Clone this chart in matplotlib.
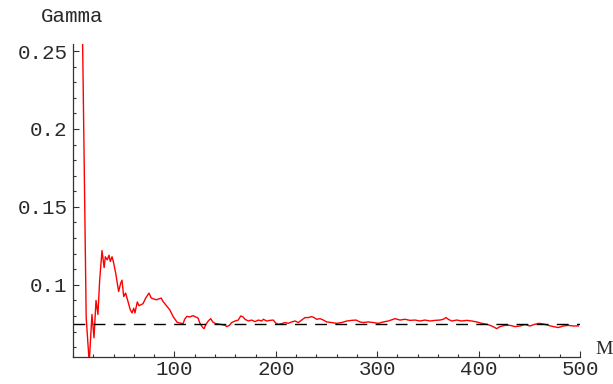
import matplotlib
matplotlib.use("Agg")
import matplotlib.pyplot as plt
from matplotlib.ticker import MultipleLocator

# Running estimate of Gamma against the number of samples M
m_values = [9, 13, 16, 18.7, 20.7, 22.7, 24.6, 26.3, 28.6, 30.7, 31.9, 33.8, 35.5,
            36.8, 38.5, 39.8, 42.1, 45, 47, 48.3, 50, 51.9, 54.2, 56.5, 58.2, 59.9,
            61.1, 63.4, 65.1, 66.8, 69, 71.7, 74.9, 77.2, 82.1, 87, 88.8, 95.4,
            98.6, 102.6, 108.5, 110.2, 112.4, 115.1, 118.3, 123.3, 125.2, 127.9,
            129.2, 131.2, 133.4, 135.8, 137.8, 140, 145, 150, 151.6, 154.2, 156.5,
            159.8, 163, 165.4, 167.4, 169.6, 172.9, 176.2, 179.5, 182.8, 186.1,
            187.7, 191, 194.3, 197.5, 200.2, 202.5, 205.8, 209.1, 212.3, 215.7,
            219, 222.2, 225.5, 228.8, 232, 235.4, 237.7, 240.3, 243.6, 246.9,
            250.2, 255.1, 260.1, 265, 270, 274.9, 279.1, 283, 286.3, 291.2, 296.2,
            301.1, 306.1, 311, 317.6, 322.5, 327.4, 332.3, 337.3, 342.2, 347.1,
            352.1, 357, 361.9, 365.2, 367.9, 370.1, 373.5, 378.4, 383.3, 388.3,
            393.2, 398.1, 403.1, 408, 412.9, 417.9, 421.1, 426, 431, 435.9, 440.8,
            445.8, 450.7, 455.6, 459.6, 463.8, 468.7, 473.7, 478.6, 483.5, 488.5,
            493.4, 498.3]
gamma_values = [0.280, 0.079, 0.050, 0.081, 0.066, 0.090, 0.081, 0.103, 0.122, 0.111,
                0.118, 0.116, 0.119, 0.115, 0.118, 0.115, 0.1075, 0.0957, 0.101,
                0.103, 0.0925, 0.0947, 0.0893, 0.084, 0.082, 0.085, 0.082, 0.089,
                0.0866, 0.0872, 0.0879, 0.0915, 0.0947, 0.0915, 0.0904, 0.0915,
                0.0893, 0.084, 0.0798, 0.076, 0.075, 0.078, 0.0798, 0.0794, 0.0802,
                0.0787, 0.0753, 0.0726, 0.0719, 0.0747, 0.0768, 0.0783, 0.0762,
                0.0753, 0.0747, 0.074, 0.0732, 0.074, 0.0758, 0.0768, 0.0774, 0.080,
                0.0796, 0.0779, 0.0768, 0.0774, 0.0764, 0.0774, 0.0768, 0.0779,
                0.0768, 0.0772, 0.0774, 0.0753, 0.0747, 0.0751, 0.0758, 0.0753,
                0.0762, 0.0768, 0.0758, 0.0774, 0.079, 0.079, 0.0796, 0.079, 0.0779,
                0.0783, 0.0774, 0.0762, 0.0758, 0.0753, 0.0758, 0.0768, 0.0772,
                0.0774, 0.0762, 0.0758, 0.0762, 0.0758, 0.0753, 0.0762, 0.0768,
                0.0783, 0.0774, 0.0779, 0.0772, 0.0774, 0.0768, 0.0774, 0.0768,
                0.0772, 0.0774, 0.0779, 0.079, 0.0779, 0.0768, 0.0774, 0.0768,
                0.0772, 0.0768, 0.0762, 0.0753, 0.0747, 0.0736, 0.0719, 0.0732,
                0.074, 0.074, 0.0732, 0.0736, 0.0745, 0.0736, 0.0747, 0.0753,
                0.0749, 0.074, 0.0732, 0.0726, 0.0736, 0.074, 0.0736, 0.0736]

# Reference level and its extent along M
gamma_ref = 0.0748
ref_m = [0, 500]

x_ticks = [100, 200, 300, 400, 500]
x_tick_labels = ["100", "200", "300", "400", "500"]
y_ticks = [0.1, 0.15, 0.2, 0.25]
y_tick_labels = ["0.1", "0.15", "0.2", "0.25"]

mono = "Liberation Mono"

fig = plt.figure(figsize=(6.13, 3.84), dpi=100)
ax = fig.add_axes([73 / 613, 27 / 384, 507 / 613, 313 / 384])

ax.plot(m_values, gamma_values, color="#ff0000", lw=1.0)
ax.plot(ref_m, [gamma_ref, gamma_ref], color="black", lw=1.0, dashes=(8.5, 6))

ax.set_xlim(0, 500)
ax.set_ylim(0.0537, 0.2545)

for side in ("top", "right"):
    ax.spines[side].set_visible(False)
for side in ("left", "bottom"):
    ax.spines[side].set_color("#333333")
    ax.spines[side].set_linewidth(0.9)

ax.set_xticks(x_ticks, x_tick_labels)
ax.set_yticks(y_ticks, y_tick_labels)
ax.xaxis.set_minor_locator(MultipleLocator(20))
ax.yaxis.set_minor_locator(MultipleLocator(0.01))
ax.tick_params(which="both", direction="in", color="#333333", width=0.8)
ax.tick_params(which="major", length=4.5)
ax.tick_params(which="minor", length=2.5)
ax.tick_params(axis="x", which="major", pad=2)
ax.tick_params(axis="y", which="major", pad=4)
for lab in ax.get_xticklabels() + ax.get_yticklabels():
    lab.set_fontfamily(mono)
    lab.set_fontsize(15)
    lab.set_color("#2a2a2a")

fig.text(72 / 613, 1 - 16 / 384, "Gamma", family=mono, fontsize=15,
         ha="center", va="center", color="#2a2a2a")
fig.text(595 / 613, 1 - 350 / 384, "M", family="Liberation Serif", fontsize=14,
         ha="left", va="center", color="#2a2a2a")

fig.savefig("out.png", dpi=100)
